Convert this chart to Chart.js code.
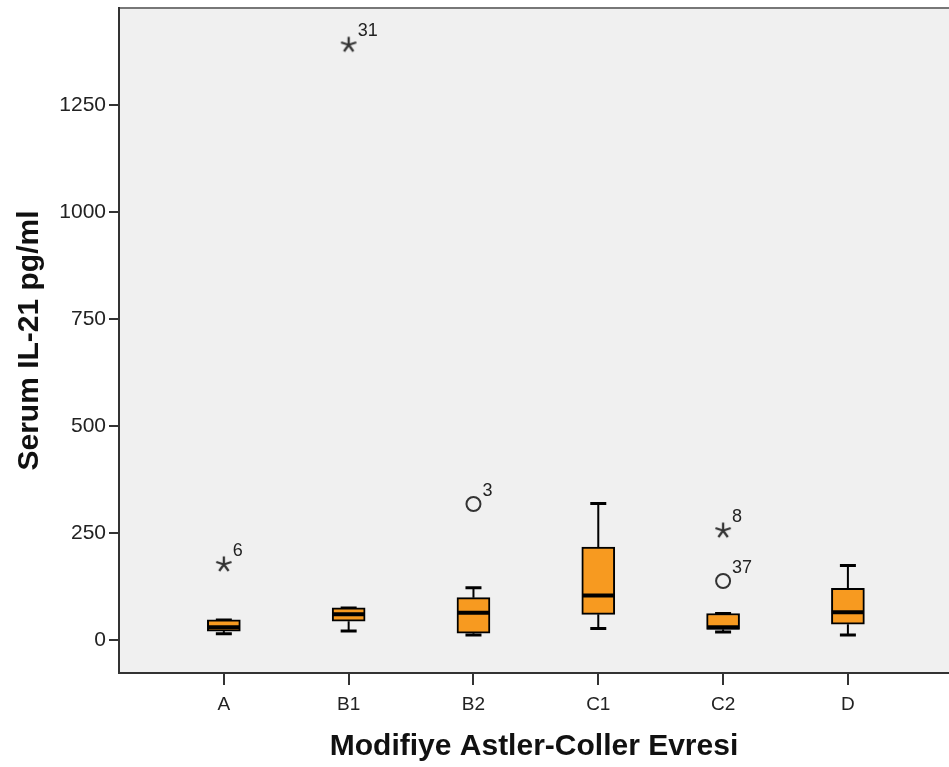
<!DOCTYPE html>
<html>
<head>
<meta charset="utf-8">
<script src="https://cdn.jsdelivr.net/npm/chart.js@4/dist/chart.umd.min.js"></script>
<style>
  body { margin: 0; background: #fff; }
  #wrap { width: 949px; height: 767px; }
</style>
</head>
<body>
<div id="wrap"><canvas id="myChart" width="949" height="767"></canvas></div>
<script>
// box plot values (Serum IL-21 pg/ml)
const categories = ['A', 'B1', 'B2', 'C1', 'C2', 'D'];
const whiskerLow = [15, 21, 12, 27, 19, 12];
const q1 = [21, 44, 16, 60, 25, 37];
const median = [30, 60, 64, 104, 30, 65];
const q3 = [47, 75, 99, 217, 62, 121];
const whiskerHigh = [47, 75, 122, 319, 62, 174];

// outliers: category index, value, case number, marker
const outlierCat = [0, 1, 2, 4, 4];
const outlierVal = [178, 1392, 318, 257, 138];
const outlierId = ['6', '31', '3', '8', '37'];
const outlierType = ['star', 'star', 'circle', 'star', 'circle'];

const yTicks = [0, 250, 500, 750, 1000, 1250];

const fontFam = '"Liberation Sans", Arial, sans-serif';

// small star for extreme values
function makeStar(){
  const c = document.createElement('canvas');
  c.width = 20; c.height = 20;
  const g = c.getContext('2d');
  g.strokeStyle = '#333';
  g.lineWidth = 2.3;
  g.beginPath();
  for (let k = 0; k < 5; k++) {
    const a = -Math.PI/2 + k*2*Math.PI/5;
    g.moveTo(10, 10.5);
    g.lineTo(10 + 8*Math.cos(a), 10.5 + 8*Math.sin(a));
  }
  g.stroke();
  return c;
}
const starImg = makeStar();

const boxPlugin = {
  id: 'boxParts',
  beforeDraw(chart){
    const {ctx, chartArea: a} = chart;
    ctx.save();
    ctx.fillStyle = '#F0F0F0';
    ctx.fillRect(a.left, a.top, a.right - a.left, a.bottom - a.top);
    ctx.strokeStyle = '#777';
    ctx.lineWidth = 2;
    ctx.beginPath();
    ctx.moveTo(a.left, a.top);
    ctx.lineTo(a.right, a.top);
    ctx.stroke();
    ctx.restore();
  },
  beforeDatasetsDraw(chart){
    const {ctx, scales: {x, y}} = chart;
    ctx.save();
    ctx.strokeStyle = '#000';
    categories.forEach((c, i) => {
      const px = x.getPixelForValue(i);
      ctx.lineWidth = 2;
      ctx.beginPath();
      ctx.moveTo(px, y.getPixelForValue(whiskerLow[i]));
      ctx.lineTo(px, y.getPixelForValue(q1[i]));
      ctx.moveTo(px, y.getPixelForValue(q3[i]));
      ctx.lineTo(px, y.getPixelForValue(whiskerHigh[i]));
      ctx.stroke();
      ctx.lineWidth = 3;
      ctx.beginPath();
      [whiskerLow[i], whiskerHigh[i]].forEach(v => {
        const py = y.getPixelForValue(v);
        ctx.moveTo(px - 8, py);
        ctx.lineTo(px + 8, py);
      });
      ctx.stroke();
    });
    ctx.restore();
  },
  afterDatasetsDraw(chart){
    const {ctx, scales: {x, y}} = chart;
    ctx.save();
    ctx.strokeStyle = '#000';
    ctx.lineWidth = 4;
    ctx.beginPath();
    categories.forEach((c, i) => {
      const px = x.getPixelForValue(i);
      const py = y.getPixelForValue(median[i]);
      ctx.moveTo(px - 16, py);
      ctx.lineTo(px + 16, py);
    });
    ctx.stroke();
    // case numbers next to outliers
    const meta = chart.getDatasetMeta(1);
    ctx.fillStyle = '#222';
    ctx.font = '18px ' + fontFam;
    ctx.textBaseline = 'alphabetic';
    meta.data.forEach((pt, i) => {
      ctx.fillText(outlierId[i], pt.x + 9, pt.y - 8);
    });
    ctx.restore();
  }
};

const ctx = document.getElementById('myChart');

new Chart(ctx, {
  type: 'bar',
  data: {
    datasets: [
      {
        label: 'box',
        data: categories.map((c, i) => ({x: i, y: [q1[i], q3[i]]})),
        backgroundColor: '#F79A20',
        borderColor: '#000',
        borderWidth: 2,
        borderSkipped: false,
        barThickness: 33,
        order: 2
      },
      {
        type: 'scatter',
        label: 'outliers',
        data: outlierCat.map((c, i) => ({x: c, y: outlierVal[i]})),
        pointStyle: (p) => outlierType[p.dataIndex] == 'star' ? starImg : 'circle',
        pointRadius: 7,
        backgroundColor: 'rgba(0,0,0,0)',
        borderColor: '#333',
        borderWidth: 2,
        order: 1
      }
    ]
  },
  options: {
    responsive: false,
    animation: false,
    layout: { autoPadding: false, padding: { top: 8, left: 0, right: 0, bottom: 0 } },
    plugins: { legend: { display: false }, tooltip: { enabled: false } },
    scales: {
      x: {
        type: 'linear',
        offset: false,
        min: -0.84,
        max: 5.81,
        afterBuildTicks: (s) => { s.ticks = categories.map((c, i) => ({value: i})); },
        afterFit: (s) => { s.height = 94; s.paddingLeft = 0; s.paddingRight = 0; },
        ticks: {
          callback: (v) => categories[v],
          font: { family: fontFam, size: 19 },
          color: '#222',
          padding: 8,
          maxRotation: 0
        },
        grid: { offset: false, drawOnChartArea: false, drawTicks: true, tickLength: 12, color: '#333', lineWidth: 2 },
        border: { display: true, color: '#333', width: 2 },
        title: {
          display: true,
          text: 'Modifiye Astler-Coller Evresi',
          font: { family: fontFam, size: 30, weight: 'bold' },
          color: '#111',
          padding: { top: 0, bottom: 2 }
        }
      },
      y: {
        min: -77,
        max: 1477,
        afterBuildTicks: (s) => { s.ticks = yTicks.map(v => ({value: v})); },
        afterFit: (s) => { s.width = 119; s.paddingTop = 0; s.paddingBottom = 0; },
        ticks: {
          callback: (v) => String(v),
          font: { family: fontFam, size: 21 },
          color: '#222',
          padding: 3
        },
        grid: { drawOnChartArea: false, drawTicks: true, tickLength: 10, color: '#333', lineWidth: 2 },
        border: { display: true, color: '#333', width: 2 },
        title: {
          display: true,
          text: 'Serum IL-21 pg/ml',
          font: { family: fontFam, size: 30, weight: 'bold' },
          color: '#111',
          padding: { top: 12, bottom: 0 }
        }
      }
    }
  },
  plugins: [boxPlugin]
});
</script>
</body>
</html>
